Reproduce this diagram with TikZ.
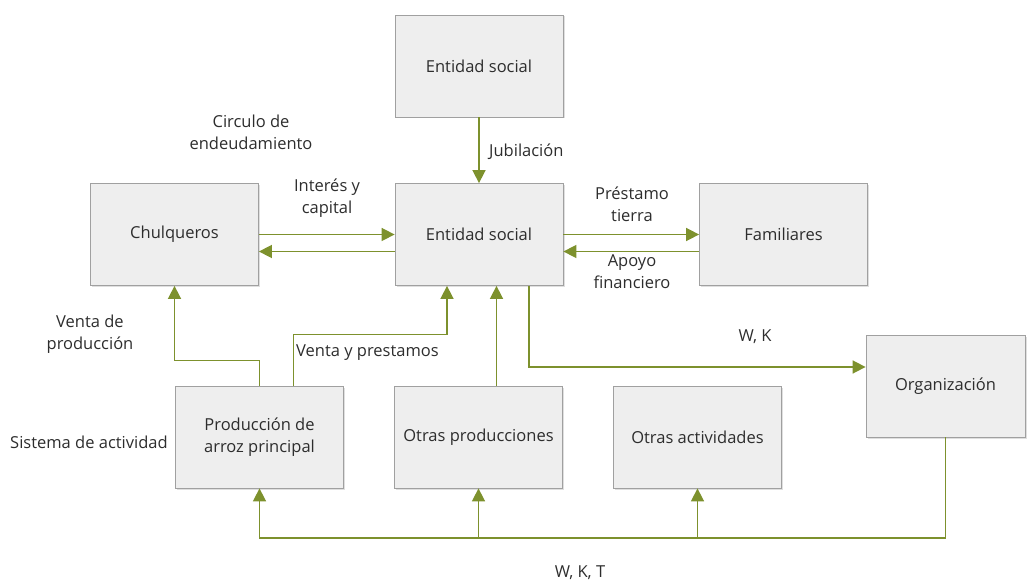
\documentclass[tikz,border=0pt]{standalone}
\usepackage{fontspec}
\setmainfont{Open Sans}
\usetikzlibrary{arrows.meta,shadows}
\definecolor{flow}{RGB}{125,145,45}
\definecolor{boxfill}{RGB}{238,238,238}
\definecolor{boxline}{RGB}{160,160,160}
\definecolor{ink}{RGB}{45,45,45}
\begin{document}
\begin{tikzpicture}[x=1pt,y=-1pt,
  font=\fontsize{16.5}{22}\selectfont,
  box/.style={draw=boxline, fill=boxfill, line width=0.8pt,
    minimum width=168pt, minimum height=102pt, inner sep=0pt,
    align=center, text=ink,
    drop shadow={shadow xshift=1.5pt, shadow yshift=-1.5pt, opacity=0.25}},
  lbl/.style={text=ink, align=center, inner sep=0pt},
  flowline/.style={draw=flow, line width=1.6pt},
  arr/.style={flowline, -{Triangle[length=13pt,width=13pt]}}]
\useasboundingbox (0,0) rectangle (1028,585);

% boxes
\node[box] (top)   at (479,66)    {Entidad social};
\node[box] (mid)   at (479,234.5) {Entidad social};
\node[box] (chul)  at (174.5,234.5) {Chulqueros};
\node[box] (fam)   at (783.5,234.5) {Familiares};
\node[box, minimum width=159pt] (org) at (945.5,386) {Organización};
\node[box] (prod)  at (259.5,437) {Producción de\\arroz principal};
\node[box] (oprod) at (478.5,437) {Otras producciones};
\node[box] (oact)  at (697.5,437) {Otras actividades};

% flows between the social entity and its partners
\draw[arr] (top.south) -- (mid.north);
\draw[arr] (chul.east) -- (mid.west);
\draw[arr] ([yshift=-17pt]mid.west) -- ([yshift=-17pt]chul.east);
\draw[arr] (mid.east) -- (fam.west);
\draw[arr] ([yshift=-17pt]fam.west) -- ([yshift=-17pt]mid.east);
\draw[arr] ([xshift=50pt]mid.south) |- ([yshift=19pt]org.west);

% flows from the activity system
\draw[arr] (prod.north) -- ++(0,-25) -| (chul.south);
\draw[arr] ([xshift=34pt]prod.north) -- ++(0,-51) -| ([xshift=-32pt]mid.south);
\draw[arr] ([xshift=18pt]oprod.north) -- ([xshift=18pt]oprod.north |- mid.south);

% resources from the organization
\coordinate (bus) at (0,538);
\draw[arr] (org.south) |- (prod.south |- bus) -- (prod.south);
\draw[arr] (oprod.south |- bus) -- (oprod.south);
\draw[arr] (oact.south |- bus) -- (oact.south);

% labels
\node[lbl, anchor=west] (jub) at (489,152) {Jubilación};
\node[lbl] (circ) at (251,132) {Circulo de\\endeudamiento};
\node[lbl] (int)  at (327,198) {Interés y\\capital};
\node[lbl] (pres) at (632,204) {Préstamo\\tierra};
\node[lbl] (apo)  at (632,272) {Apoyo\\financiero};
\node[lbl] (wk)   at (755,337) {W, K};
\node[lbl] (vprod) at (90,334) {Venta de\\producción};
\node[lbl, anchor=west] (vyp) at (296,353) {Venta y prestamos};
\node[lbl, anchor=west] (sis) at (10,442) {Sistema de actividad};
\node[lbl] (wkt)  at (580,573) {W, K, T};
\end{tikzpicture}
\end{document}
